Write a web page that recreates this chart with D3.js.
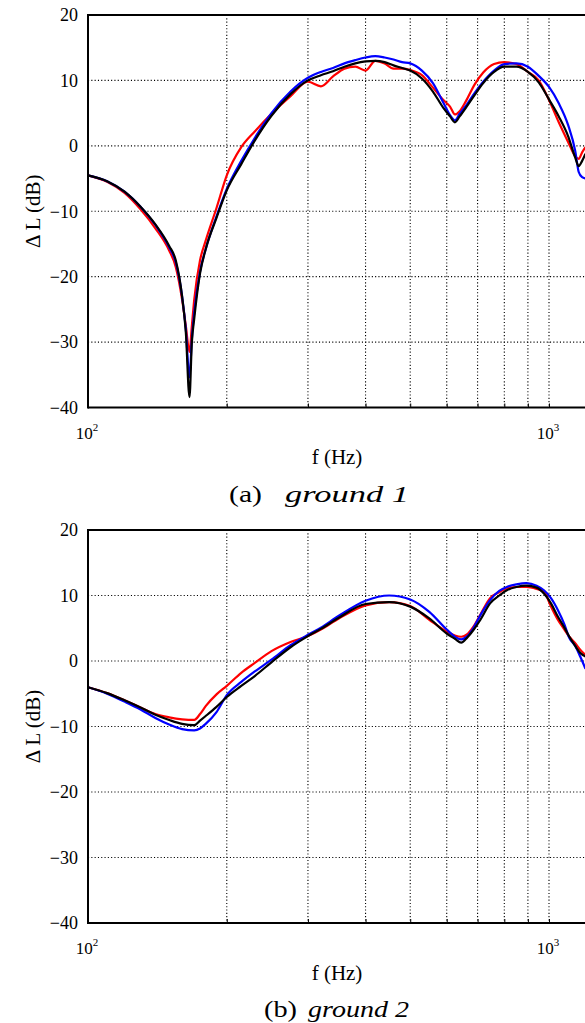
<!DOCTYPE html>
<html><head><meta charset="utf-8">
<script src="https://cdn.jsdelivr.net/npm/d3@7"></script>
<style>
html,body{margin:0;padding:0;background:#fff;}
svg{display:block;}
text{font-family:"Liberation Serif","Times New Roman",serif;fill:#000;}
</style></head>
<body>
<svg id="chart" width="585" height="1023" font-family="Liberation Serif"></svg>
<script>
// ---- data (frequency in Hz, ΔL in dB) ----
const freq1 = [100,110,120,130,140,150,155,160,163,166,168,170,175,180,190,200,215,230,250,275,300,320,340,360,380,400,420,440,460,480,500,530,560,590,610,625,640,660,690,720,760,800,850,900,950,1000,1050,1100,1140,1160,1180,1200];
const red1   = [-4.5,-5.5,-7.2,-9.7,-12.6,-16,-18.5,-23.5,-27.5,-31.5,-27.5,-23.5,-17.5,-14.5,-9.5,-4.5,-0.2,2.2,4.9,7.6,9.8,9.1,10.6,11.8,12.1,11.5,13.0,12.6,11.8,11.8,11.6,10.8,8.9,7.0,6.0,4.8,5.3,6.8,9.4,11.2,12.5,12.8,12.5,11.3,10.0,7.0,3.6,0.6,-1.6,-2.0,-1.0,-0.2];
const blue1  = [-4.5,-5.4,-7.0,-9.3,-12.1,-15.5,-17.8,-23,-28,-35.4,-29.5,-25.5,-19.2,-15.8,-10.8,-6.6,-2.3,1.2,5.0,8.3,10.4,11.3,11.9,12.6,13.1,13.5,13.7,13.5,13.2,12.8,12.6,11.5,9.6,6.6,4.7,3.9,4.9,6.1,8.1,9.8,11.5,12.5,12.6,12.1,10.7,9.0,6.5,3.2,-0.8,-4.0,-4.8,-5.0];
const black1 = [-4.5,-5.4,-7.0,-9.3,-12.0,-15.3,-17.5,-23,-28.5,-38.4,-30,-26.4,-19.5,-15.8,-11,-6.8,-2.8,0.8,4.6,7.9,10.0,10.8,11.4,12.1,12.6,12.9,13.0,12.8,12.3,11.9,11.5,10.3,8.3,5.8,4.5,3.6,4.5,5.8,7.8,9.6,11.3,12.1,12.1,11.3,9.7,7.1,4.5,1.5,-1.8,-3.1,-2.3,-1.2];

const freq2 = [100,110,120,130,140,150,160,170,175,180,190,200,215,230,250,275,300,320,350,400,450,500,550,600,625,645,665,685,710,745,780,810,850,893,940,975,1010,1045,1080,1107,1140,1170,1200];
const red2   = [-4.0,-4.9,-6.0,-7.1,-8.1,-8.6,-8.9,-9.0,-8.1,-6.9,-5.1,-3.8,-1.8,-0.3,1.5,2.9,3.8,4.8,6.5,8.5,9.0,8.4,6.3,4.5,3.9,3.7,4.1,5.2,7.1,9.6,10.5,11.1,11.3,11.3,11.0,10.6,8.3,6.3,4.8,3.7,2.7,1.7,0.9];
const blue2  = [-4.0,-5.0,-6.2,-7.4,-8.7,-9.7,-10.4,-10.6,-10.3,-9.6,-7.8,-5.2,-3.2,-1.6,0.2,2.4,4.0,5.1,6.9,9.2,10.0,9.4,7.5,4.8,3.7,3.3,3.8,5.0,7.0,9.3,10.7,11.3,11.7,11.9,11.5,10.8,9.6,7.8,5.6,3.5,2.3,0.6,-1.2];
const black2 = [-4.0,-4.9,-6.0,-7.1,-8.2,-9.0,-9.6,-9.8,-9.1,-8.4,-7.0,-5.5,-3.8,-2.3,-0.2,2.1,3.8,4.9,6.6,8.7,9.0,8.3,6.5,4.2,3.4,2.8,3.6,4.7,6.3,8.8,10.0,10.8,11.3,11.5,11.2,10.3,8.8,6.8,5.1,3.7,2.3,1.2,0.7];

const yTicks = [-40,-30,-20,-10,0,10,20];
const xGrid = [200,300,400,500,600,700,800,900,1000];
const xTickLabels = [{v:100, base:"10", exp:"2"},{v:1000, base:"10", exp:"3"}];
const captions = [{lab:"(a)", name:"ground 1"},{lab:"(b)", name:"ground 2"}];
const seriesColors = ["#ff0000","#0000ff","#000000"];

const panels = [
  {top:15, bottom:407.5, freq:freq1, series:[red1,blue1,black1], cap:captions[0], capPos:[229,33,285,124]},
  {top:530, bottom:923, freq:freq2, series:[red2,blue2,black2], cap:captions[1], capPos:[264,33,308,101]}
];

const svg = d3.select("#chart");
const L = 88, R = 585.5;
const x = d3.scaleLog().domain([100,1200]).range([L,R]);
const FF = '"Liberation Serif",serif';

panels.forEach((p,i)=>{
  const y = d3.scaleLinear().domain([-40,20]).range([p.bottom,p.top]);
  const g = svg.append("g");
  const clipId = "clip"+i;
  svg.append("clipPath").attr("id",clipId).append("rect")
    .attr("x",L).attr("y",p.top).attr("width",R-L).attr("height",p.bottom-p.top);

  // grid
  g.append("g").selectAll("line").data([-30,-20,-10,0,10]).join("line")
    .attr("x1",L).attr("x2",585).attr("y1",d=>y(d)).attr("y2",d=>y(d))
    .attr("stroke","#000").attr("stroke-width",1.1).attr("stroke-dasharray","1.1,2.2");
  g.append("g").selectAll("line").data(xGrid).join("line")
    .attr("x1",d=>x(d)).attr("x2",d=>x(d)).attr("y1",p.top).attr("y2",p.bottom)
    .attr("stroke","#000").attr("stroke-width",1.1).attr("stroke-dasharray","1.1,2.2");

  // curves
  const line = d3.line().x((d,k)=>x(p.freq[k])).y(d=>y(d)).curve(d3.curveMonotoneX);
  p.series.forEach((s,k)=>{
    g.append("path").datum(s).attr("d",line).attr("fill","none")
      .attr("stroke",seriesColors[k]).attr("stroke-width",2.2)
      .attr("stroke-linejoin","round").attr("clip-path","url(#"+clipId+")");
  });

  // frame (left, bottom, top)
  g.append("line").attr("x1",L).attr("x2",L).attr("y1",p.top-1).attr("y2",p.bottom+1).attr("stroke","#000").attr("stroke-width",2);
  g.append("line").attr("x1",L).attr("x2",585).attr("y1",p.bottom).attr("y2",p.bottom).attr("stroke","#000").attr("stroke-width",2);
  g.append("line").attr("x1",L).attr("x2",585).attr("y1",p.top).attr("y2",p.top).attr("stroke","#000").attr("stroke-width",2);

  // y axis labels
  const ya = d3.axisLeft(y).tickValues(yTicks).tickSize(0).tickPadding(10);
  const yg = g.append("g").attr("transform",`translate(${L},0)`).call(ya);
  yg.attr("font-family",null);
  yg.select(".domain").remove();
  yg.selectAll("text").style("font-family",FF).style("font-size","18px").attr("fill","#000");

  // x axis tick marks (inward) + labels
  const xa = d3.axisBottom(x).tickValues(xGrid.concat([100])).tickSize(-4).tickFormat("");
  const xg = g.append("g").attr("transform",`translate(0,${p.bottom})`).call(xa);
  xg.select(".domain").remove();
  const lab = g.append("g").selectAll("text").data(xTickLabels).join("text")
    .attr("x",d=>x(d.v)-1).attr("y",p.bottom+31).attr("text-anchor","middle")
    .style("font-family",FF).style("font-size","17px");
  lab.append("tspan").text(d=>d.base);
  lab.append("tspan").attr("dy",-8).style("font-size","11px").text(d=>d.exp);

  // axis titles
  g.append("text").attr("x",337).attr("y",p.bottom+56.5).attr("text-anchor","middle")
    .style("font-family",FF).style("font-size","21px").text("f (Hz)");
  const ymid = (p.top+p.bottom)/2;
  g.append("text").attr("transform",`translate(40,${ymid}) rotate(-90)`).attr("text-anchor","middle")
    .style("font-family",FF).style("font-size","21px").text("Δ L (dB)");

  // caption
  const cp = p.capPos;
  g.append("text").attr("x",cp[0]).attr("y",p.bottom+94)
    .attr("textLength",cp[1]).attr("lengthAdjust","spacingAndGlyphs")
    .style("font-family",FF).style("font-size","24px").text(p.cap.lab);
  g.append("text").attr("x",cp[2]).attr("y",p.bottom+94)
    .attr("textLength",cp[3]).attr("lengthAdjust","spacingAndGlyphs")
    .style("font-family",FF).style("font-size","24px").style("font-style","italic").text(p.cap.name);
});
</script>
</body></html>
